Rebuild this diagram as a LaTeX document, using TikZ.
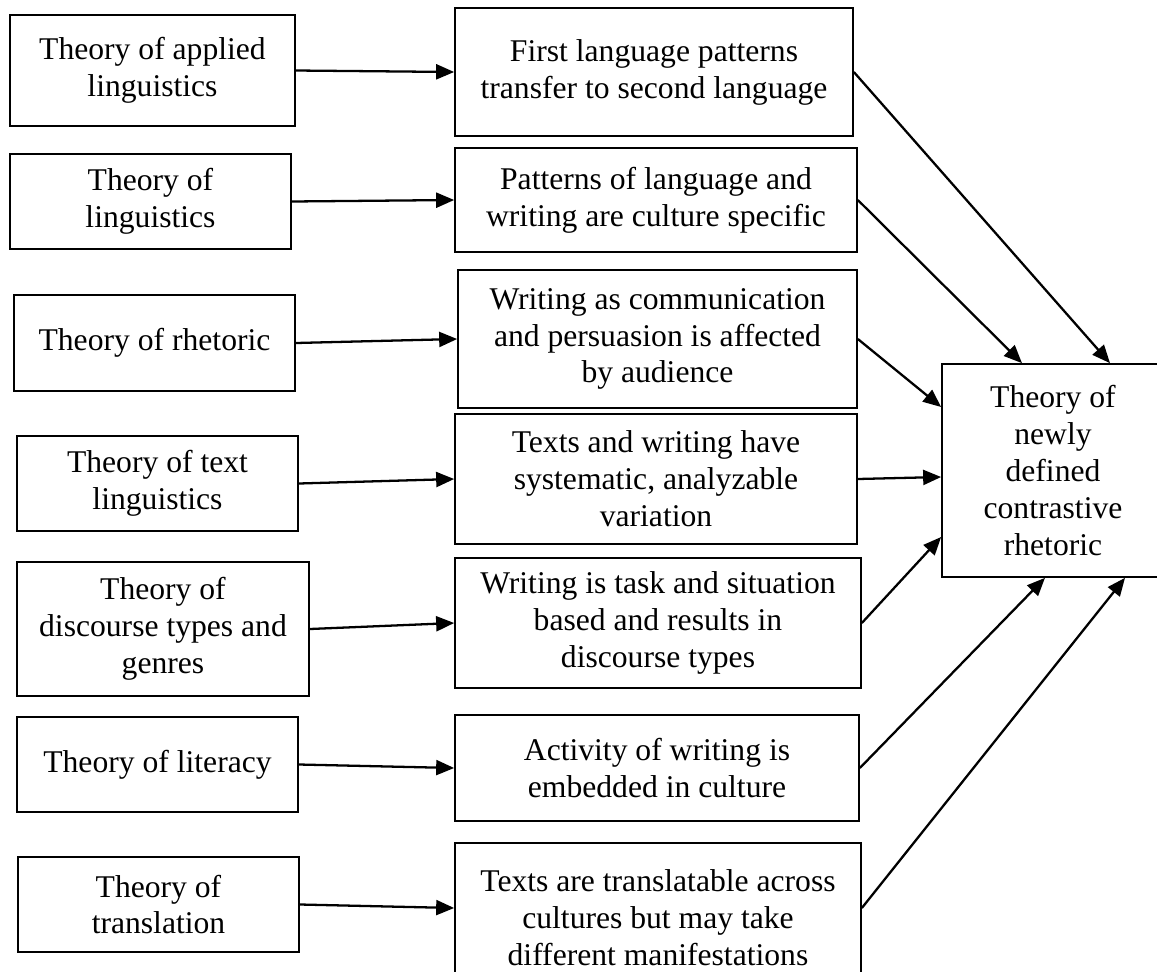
\documentclass[tikz,border=0pt]{standalone}
\usepackage{fontspec}
\setmainfont{Liberation Serif}
\usetikzlibrary{positioning,arrows.meta,calc}

\begin{document}
\begin{tikzpicture}[
    x=0.02cm, y=-0.02cm,
    box/.style={draw, line width=1pt, align=center, inner sep=2pt, font=\fontsize{18}{21}\selectfont},
    arrow/.style={-{Triangle[length=0.36cm, width=0.3cm]}, line width=1.3pt},
  ]
  \useasboundingbox (0,0) rectangle (1157,971);

  % Theories (left column)
  \node[box, minimum width=5.70cm, minimum height=2.22cm] (thApplied) at (152.5,70.5) {Theory of applied\\linguistics};
  \node[box, minimum width=5.62cm, minimum height=1.90cm] (thLing) at (150.5,201.5) {Theory of\\linguistics};
  \node[box, minimum width=5.62cm, minimum height=1.92cm] (thRhet) at (154.5,343) {Theory of rhetoric};
  \node[box, minimum width=5.62cm, minimum height=1.90cm] (thText) at (157.5,483.5) {Theory of text\\linguistics};
  \node[box, minimum width=5.84cm, minimum height=2.68cm] (thDisc) at (163,629) {Theory of\\discourse types and\\genres};
  \node[box, minimum width=5.62cm, minimum height=1.90cm] (thLit) at (157.5,764.5) {Theory of literacy};
  \node[box, minimum width=5.62cm, minimum height=1.90cm] (thTrans) at (158.5,904.5) {Theory of\\translation};

  % Claims (middle column)
  \node[box, minimum width=7.96cm, minimum height=2.56cm] (clTransfer) at (654,72) {First language patterns\\transfer to second language};
  \node[box, minimum width=8.04cm, minimum height=2.08cm] (clCulture) at (656,200) {Patterns of language and\\writing are culture specific};
  \node[box, minimum width=7.98cm, minimum height=2.76cm] (clAudience) at (657.5,339) {Writing as communication\\and persuasion is affected\\by audience};
  \node[box, minimum width=8.04cm, minimum height=2.60cm] (clVariation) at (656,479) {Texts and writing have\\systematic, analyzable\\variation};
  \node[box, minimum width=8.12cm, minimum height=2.60cm] (clTask) at (658,623) {Writing is task and situation\\based and results in\\discourse types};
  \node[box, minimum width=8.08cm, minimum height=2.12cm] (clEmbedded) at (657,768) {Activity of writing is\\embedded in culture};
  \node[box, minimum width=8.12cm, minimum height=3.00cm] (clTranslate) at (658,918) {Texts are translatable across\\cultures but may take\\different manifestations};

  % Result
  \node[box, minimum width=4.44cm, minimum height=4.26cm] (newTheory) at (1053,470.5) {Theory of\\newly\\defined\\contrastive\\rhetoric};

  % Arrows
  \draw[arrow] (thApplied.east) -- (clTransfer.west);
  \draw[arrow] (thLing.east) -- (clCulture.west);
  \draw[arrow] (thRhet.east) -- (clAudience.west);
  \draw[arrow] (thText.east) -- (clVariation.west);
  \draw[arrow] (thDisc.east) -- (clTask.west);
  \draw[arrow] (thLit.east) -- (clEmbedded.west);
  \draw[arrow] (thTrans.east) -- ($(clTranslate.west)+(0,-10)$);

  \draw[arrow] (clTransfer.east) -- ($(newTheory.north)+(57,0)$);
  \draw[arrow] (clCulture.east) -- ($(newTheory.north)+(-31,0)$);
  \draw[arrow] (clAudience.east) -- ($(newTheory.west)+(0,-63.5)$);
  \draw[arrow] (clVariation.east) -- ($(newTheory.west)+(0,6.5)$);
  \draw[arrow] (clTask.east) -- ($(newTheory.west)+(0,66.5)$);
  \draw[arrow] (clEmbedded.east) -- ($(newTheory.south)+(-8,0)$);
  \draw[arrow] ($(clTranslate.east)+(0,-10)$) -- ($(newTheory.south)+(72,0)$);
\end{tikzpicture}
\end{document}
